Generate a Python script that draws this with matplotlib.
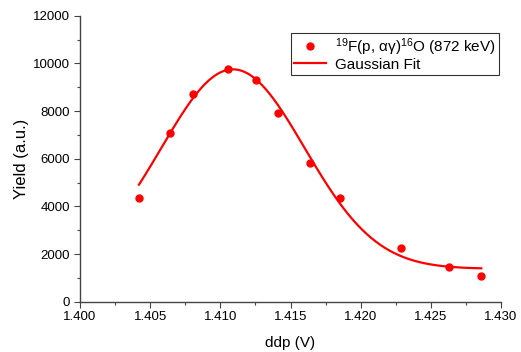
import numpy as np
import matplotlib.pyplot as plt

plt.rcParams["font.family"] = ["Liberation Sans", "DejaVu Sans"]
plt.rcParams["mathtext.fontset"] = "custom"
plt.rcParams["mathtext.rm"] = "Liberation Sans"
plt.rcParams["mathtext.it"] = "Liberation Sans:italic"

# measured points
ddp = [1.40423, 1.40641, 1.40803, 1.41052, 1.41252, 1.41413,
       1.41639, 1.41853, 1.42285, 1.42632, 1.42860]
yld = [4364, 7091, 8714, 9763, 9289, 7905, 5807, 4338, 2266, 1443, 1091]

# gaussian fit parameters
y0 = 1380
amp = 8370
xc = 1.4109
w = 0.0051
fit_range = (1.4042, 1.4286)

xf = np.linspace(fit_range[0], fit_range[1], 300)
yf = y0 + amp * np.exp(-(xf - xc) ** 2 / (2 * w ** 2))

fig = plt.figure(figsize=(5.21, 3.52), dpi=100)
ax = fig.add_axes([0.1536, 0.1429, 0.808, 0.8125])

ax.plot(ddp, yld, "o", color="red", markersize=5, linestyle="none",
        label=r"$^{19}$F(p, $\mathrm{\alpha\gamma}$)$^{16}$O (872 keV)")
ax.plot(xf, yf, color="red", linewidth=1.6, label="Gaussian Fit")

ax.set_xlim(1.400, 1.430)
ax.set_ylim(0, 12000)
ax.set_xticks(np.arange(1.400, 1.4301, 0.005))
ax.set_xticks(np.arange(1.4025, 1.430, 0.005), minor=True)
ax.set_yticks(np.arange(0, 12001, 2000))
ax.set_yticks(np.arange(1000, 12000, 2000), minor=True)
ax.xaxis.set_major_formatter(plt.FormatStrFormatter("%.3f"))

for s in ["top", "right"]:
    ax.spines[s].set_visible(False)
for s in ["left", "bottom"]:
    ax.spines[s].set_color("#444444")
    ax.spines[s].set_linewidth(1.0)

ax.tick_params(which="major", direction="out", length=4, width=0.8,
               labelsize=9.5, color="#444444", pad=3)
ax.tick_params(which="minor", direction="out", length=2.5, width=0.8,
               color="#444444")

ax.set_xlabel("ddp (V)", fontsize=11, labelpad=9)
ax.set_ylabel("Yield (a.u.)", fontsize=12, labelpad=3)

leg = ax.legend(loc="upper right", bbox_to_anchor=(0.995, 0.94), fontsize=11,
                frameon=True, fancybox=False, edgecolor="black",
                handlelength=2.1, borderpad=0.2, labelspacing=0.0,
                borderaxespad=0, handletextpad=0.6)
leg.get_frame().set_linewidth(0.8)

fig.savefig("out.png", dpi=100)
